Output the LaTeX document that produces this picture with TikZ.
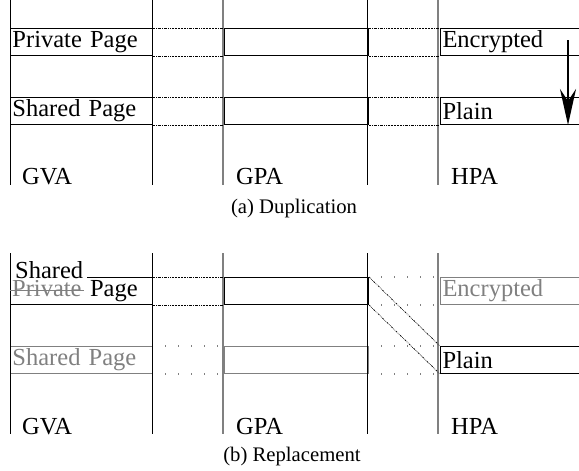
\documentclass[tikz,border=0pt]{standalone}
\usepackage{fontspec}
\setmainfont{Liberation Serif}
\usetikzlibrary{positioning,arrows.meta}
\definecolor{fadegray}{gray}{0.5}

\begin{document}
\begin{tikzpicture}[
            x=1pt, y=-1pt,
            every node/.style={ font=\fontsize{24.5}{27}\selectfont },
            pagebox/.style={ draw, line width=1pt, minimum height=27pt, inner xsep=2pt, inner ysep=0pt, text width=#1, align=left },
            oldbox/.style={ pagebox=#1, draw=fadegray, text=fadegray },
            axis/.style={ line width=0.9pt },
            fadeaxis/.style={ line width=1.2pt, draw=gray },
            map/.style={ line width=0.7pt, dash pattern=on 2pt off 1pt on 0.6pt off 1pt on 0.6pt off 1pt },
            nomap/.style={ line width=1.1pt, fadegray, dash pattern=on 1pt off 12pt, dash phase=1pt },
            movearrow/.style={ line width=2.5pt, -{Stealth[length=36pt, width=16pt, inset=12pt]} },
            axislabel/.style={ anchor=base west, inner sep=0pt },
            caption/.style={ anchor=base, font=\fontsize{20.7}{23}\selectfont },
            node distance=71pt
        ]
        \useasboundingbox (0,0) rectangle (579,471);
        \clip (0,0) rectangle (579,471);

        \node[oldbox=138pt, anchor=north west] (gvaOld) at (10,346) {Shared Page};
        \node[oldbox=140pt, right=of gvaOld] (gpaOld) {};

        \foreach \x/\s in {10/axis, 152/axis, 223/fadeaxis, 367/axis, 438/fadeaxis} {
            \draw[\s] (\x,-5) -- (\x,185);
            \draw[\s] (\x,253) -- (\x,434);
        }

        % (a) duplication
        \node[pagebox=138pt, anchor=north west] (gvaPriv) at (10,28) {Private Page};
        \node[pagebox=140pt, right=of gvaPriv] (gpaPriv) {};
        \node[pagebox=146pt, right=of gpaPriv] (hpaEnc) {Encrypted};
        \node[pagebox=138pt, anchor=north west] (gvaShr) at (10,97) {Shared Page};
        \node[pagebox=140pt, right=of gvaShr] (gpaShr) {};
        \node[pagebox=146pt, right=of gpaShr] (hpaPlain) {Plain};

        \foreach \a/\b in {gvaPriv/gpaPriv, gpaPriv/hpaEnc, gvaShr/gpaShr, gpaShr/hpaPlain} {
            \draw[map] (\a.north east) -- (\b.north west);
            \draw[map] (\a.south east) -- (\b.south west);
        }

        \coordinate (mvTop) at (568,40);
        \coordinate (mvEnd) at (568,125);
        \draw[movearrow] (mvTop) -- (mvEnd);

        \node[axislabel] (gvaA) at (22,184) {GVA};
        \node[axislabel] (gpaA) at (236,184) {GPA};
        \node[axislabel] (hpaA) at (451,184) {HPA};
        \node[caption] (capA) at (294,213) {(a) Duplication};

        % (b) replacement
        \node[pagebox=138pt, anchor=north west] (gvaNew) at (10,277) {\phantom{Private} Page};
        \node[anchor=base west, inner xsep=2pt, inner ysep=0pt, text=fadegray] (gvaStrike) at (gvaNew.base west) {Private};
        \draw[fadegray, line width=1pt] ([yshift=6pt]gvaStrike.base west) -- ([yshift=6pt]gvaStrike.base east);
        \node[anchor=base west, fill=white, inner xsep=4pt, inner ysep=2pt] (gvaTag) at ([xshift=1pt, yshift=-1pt]gvaNew.north west) {Shared};
        \node[pagebox=140pt, right=of gvaNew] (gpaNew) {};
        \node[oldbox=146pt, right=of gpaNew] (hpaOldEnc) {Encrypted};
        \node[pagebox=146pt, right=of gpaOld] (hpaPlainB) {Plain};

        \draw[map] (gvaNew.north east) -- (gpaNew.north west);
        \draw[map] (gvaNew.south east) -- (gpaNew.south west);
        \foreach \a/\b in {gvaOld/gpaOld, gpaNew/hpaOldEnc, gpaOld/hpaPlainB} {
            \draw[nomap] (\a.north east) -- (\b.north west);
            \draw[nomap] (\a.south east) -- (\b.south west);
        }
        \draw[map] (gpaNew.north east) -- (hpaPlainB.north west);
        \draw[map] (gpaNew.south east) -- (hpaPlainB.south west);

        \node[axislabel] (gvaB) at (22,434) {GVA};
        \node[axislabel] (gpaB) at (236,434) {GPA};
        \node[axislabel] (hpaB) at (451,434) {HPA};
        \node[caption] (capB) at (292,461) {(b) Replacement};
    \end{tikzpicture}
\end{document}
